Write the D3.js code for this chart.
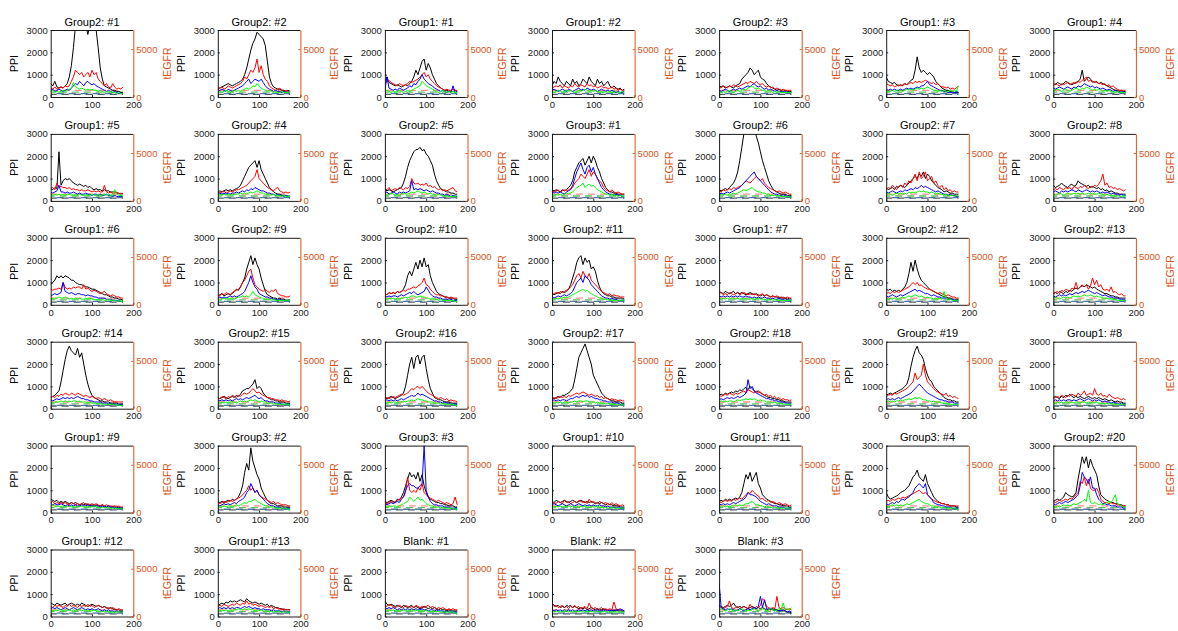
<!DOCTYPE html>
<html><head><meta charset="utf-8">
<script src="https://cdn.jsdelivr.net/npm/d3@7"></script>
<style>
body{margin:0;background:#fff}
svg{display:block}
text{font-family:"Liberation Sans",Arial,Helvetica,sans-serif}
</style>
</head><body>
<svg id="fig" width="1178" height="631"></svg>
<script>
// Panel titles, row by row (7 panels per row)
const panelTitles = [
  "Group2: #1","Group2: #2","Group1: #1","Group1: #2","Group2: #3","Group1: #3","Group1: #4",
  "Group1: #5","Group2: #4","Group2: #5","Group3: #1","Group2: #6","Group2: #7","Group2: #8",
  "Group1: #6","Group2: #9","Group2: #10","Group2: #11","Group1: #7","Group2: #12","Group2: #13",
  "Group2: #14","Group2: #15","Group2: #16","Group2: #17","Group2: #18","Group2: #19","Group1: #8",
  "Group1: #9","Group3: #2","Group3: #3","Group1: #10","Group1: #11","Group3: #4","Group2: #20",
  "Group1: #12","Group1: #13","Blank: #1","Blank: #2","Blank: #3"
];

// Sampling positions along the x axis (frame index)
const frameX = [0,5,10,15,20,25,30,35,40,45,50,55,60,65,70,75,80,85,90,95,100,105,110,115,120,125,130,135,140,145,150,155,160,165,170,175];

// Axis ticks
const xTicks = [0,100,200];
const ppiTicks = [0,1000,2000,3000];
const egfrTicks = [0,5000];

// Dashed reference levels (black, blue, green, red)
const cutoffBlack = 120, cutoffBlue = 150, cutoffGreen = 220, cutoffRed = 300;

// Black trace, one row per panel
const traceBlack = [
[600,500,700,450,400,450,400,500,600,900,1400,2200,3200,3500,3600,3400,3500,3200,2800,3300,3400,3200,3000,2200,1300,800,500,450,400,350,300,300,250,250,200,200],
[400,400,450,500,550,600,550,500,550,600,650,700,800,1000,1300,1700,2100,2400,2600,2900,2800,2700,2600,2300,1600,900,600,450,400,350,350,300,300,250,300,250],
[700,900,650,600,550,500,550,500,450,500,550,500,600,700,900,1200,1000,1300,1600,1700,1200,1500,1300,1000,800,600,500,400,350,300,300,250,250,250,300,250],
[500,700,600,900,700,600,500,700,600,500,800,600,700,500,600,800,700,600,900,700,600,500,800,600,700,500,600,700,500,400,500,400,350,400,300,350],
[500,450,500,400,450,500,450,400,500,550,600,800,900,1000,1100,1300,1200,1000,1100,1200,900,800,750,600,500,450,400,350,300,350,300,250,300,250,250,250],
[900,700,650,600,650,550,500,550,500,600,550,650,750,800,1200,1800,1300,1100,1200,1100,1000,1100,1000,900,700,600,500,400,350,300,300,250,250,200,200,200],
[600,550,650,600,550,600,700,650,600,550,600,650,700,800,1200,700,800,900,800,700,650,700,600,650,600,550,500,450,400,350,300,300,250,300,250,250],
[550,500,600,550,2200,700,900,1000,950,1000,900,800,750,700,750,700,650,700,600,650,550,500,550,500,500,450,500,450,450,400,400,400,350,350,300,350],
[400,450,400,450,500,450,500,450,500,550,600,700,900,1100,1300,1500,1600,1700,1800,1500,1800,1400,1200,1000,800,600,500,400,350,300,300,250,250,250,200,200],
[500,450,500,450,400,450,500,550,600,800,1100,1500,1800,2000,2200,2300,2300,2400,2250,2300,2100,2000,1800,1600,1200,900,700,550,500,450,400,400,350,350,300,300],
[500,450,500,450,400,500,450,500,600,700,900,1300,1500,1700,1800,1900,1600,1800,2000,1700,2000,1800,1500,1300,1000,800,600,500,400,400,350,350,300,300,300,300],
[500,450,500,550,500,600,700,800,1000,1300,1800,2400,3000,3400,3500,3300,3600,3200,2900,2600,2200,1800,1500,1200,900,700,550,450,400,350,300,300,300,250,250,250],
[600,500,550,600,500,650,600,700,650,600,700,800,900,1000,1100,1000,1200,1100,1300,1000,1200,1100,900,800,700,600,550,500,400,450,400,350,350,300,300,300],
[700,600,650,700,800,700,650,600,700,750,650,700,900,800,750,700,650,700,600,650,600,550,600,500,550,450,500,400,450,400,350,350,300,300,300,300],
[900,1000,1100,1300,1200,1300,1200,1300,1250,1200,1100,1100,1000,950,900,900,850,800,800,750,700,700,650,600,550,500,450,450,400,350,350,300,300,250,250,200],
[400,450,500,400,450,500,450,500,600,700,650,800,1000,1200,1600,1900,2200,1800,2100,1800,1600,1200,900,600,450,400,350,300,300,250,300,250,250,200,200,200],
[500,450,550,500,550,500,600,550,600,700,900,1300,1500,1300,1600,1900,1600,2000,1700,2100,1700,1800,1300,1000,800,600,500,450,400,350,350,300,300,300,250,250],
[500,450,500,550,500,600,550,600,700,900,1200,1500,1900,2100,2200,1800,2100,1900,2000,1600,1700,1500,1100,800,600,500,450,400,400,350,350,300,300,300,300,250],
[600,550,500,600,550,500,550,600,500,550,500,550,500,450,500,550,500,450,500,450,400,450,400,450,400,350,400,350,350,300,350,300,300,250,300,250],
[700,650,700,600,650,600,650,600,700,800,1000,1400,1900,1500,2000,1600,1300,1100,1000,900,800,700,650,600,550,500,450,400,350,350,300,300,250,250,250,250],
[500,550,500,600,550,500,600,550,650,600,700,750,700,800,850,800,900,850,800,750,800,700,650,600,550,500,500,450,400,400,350,350,300,300,300,300],
[500,550,600,700,800,1200,1700,2200,2600,2800,2600,2500,2400,2700,2300,2500,2000,1500,1100,800,600,500,450,400,350,350,300,300,300,250,250,250,250,200,200,200],
[500,450,500,550,500,450,500,550,500,600,550,650,800,850,900,900,1000,1100,1300,900,1000,900,700,600,500,450,400,400,350,350,300,300,300,250,250,250],
[500,450,500,550,500,450,500,550,600,700,1000,1500,2000,2300,1800,2300,2400,2000,2300,2400,1800,1300,900,700,500,450,400,400,350,300,300,300,250,250,250,250],
[500,450,500,550,500,600,600,650,700,800,900,1300,1800,2300,2500,2700,2900,2600,2300,2000,1500,1300,1100,900,700,600,500,450,400,350,350,300,300,300,250,250],
[600,650,600,700,650,700,750,700,800,750,850,800,900,950,850,1000,900,800,750,800,700,650,600,550,500,500,450,450,400,400,350,350,300,300,300,300],
[600,650,700,650,700,750,800,850,900,1000,1100,1400,1900,2300,2600,2800,2500,2400,2200,1800,1500,1300,1200,1000,900,800,700,600,500,450,400,400,350,350,300,300],
[500,550,500,450,550,500,600,550,650,550,500,550,500,550,500,450,500,550,500,450,500,450,500,450,400,450,400,350,400,350,300,350,300,300,250,250],
[600,550,500,550,450,500,450,500,450,400,450,400,450,400,350,400,350,400,350,300,350,300,350,300,300,350,300,250,300,250,250,250,200,250,200,200],
[500,450,500,450,500,550,500,600,550,600,700,900,1200,1800,2200,1900,2900,2300,2000,1700,1500,1100,900,700,550,450,400,400,350,300,300,300,250,250,250,250],
[500,450,500,550,500,450,600,550,700,900,1200,1500,1800,1600,1700,1500,1800,1400,1700,1200,900,700,600,550,500,450,450,400,400,350,350,300,300,300,250,250],
[500,450,550,500,450,500,550,500,450,500,550,500,450,500,550,500,450,500,450,500,450,400,450,400,450,400,350,400,350,350,300,300,300,250,250,250],
[500,550,500,600,550,600,550,600,650,600,700,900,1300,1700,1500,1800,1400,1600,1800,1300,1100,800,700,600,550,500,450,400,400,350,350,300,300,300,250,250],
[900,700,600,650,700,750,800,900,950,1000,1100,1200,1400,1600,1700,1900,1600,1500,1400,1700,1300,1100,900,700,600,500,450,400,400,350,350,300,300,300,250,250],
[500,550,600,550,600,700,900,800,750,700,750,900,1500,2000,2500,2200,2500,2000,2400,2100,1900,1700,1200,800,700,600,550,500,450,450,400,400,350,350,300,300],
[600,550,500,600,550,500,550,600,500,550,600,550,500,550,500,600,550,500,450,500,550,500,450,500,450,400,450,400,350,400,350,300,300,300,250,250],
[500,550,600,550,650,600,700,650,700,650,700,750,700,650,800,700,650,600,650,600,550,600,550,500,550,450,500,450,400,400,350,350,300,300,300,300],
[700,550,500,550,500,450,500,450,400,500,450,400,450,500,400,450,400,350,400,450,400,350,400,350,400,350,300,350,300,300,250,300,250,250,250,250],
[600,500,450,500,400,450,400,500,450,500,400,450,400,350,400,350,400,300,350,400,350,300,350,300,300,350,300,300,250,300,250,300,250,250,250,250],
[500,450,400,450,500,450,500,600,450,400,450,400,450,400,350,400,450,400,350,400,350,400,350,300,350,300,350,300,300,250,300,250,250,200,200,150]
];

// Red trace
const traceRed = [
[400,350,450,350,400,450,400,500,450,500,700,900,1200,1100,1000,1100,900,1000,1100,900,1200,1000,1100,800,700,600,500,600,450,400,600,450,350,400,350,450],
[350,400,450,350,400,500,450,400,450,500,550,600,700,900,800,1000,1200,1100,1300,1700,1100,1400,1000,800,700,500,400,350,300,350,400,300,250,300,250,250],
[600,700,750,650,600,550,500,600,550,500,550,600,700,650,700,750,800,900,1000,1100,900,1000,800,700,600,500,450,400,350,300,350,300,300,350,300,300],
[400,450,500,450,550,400,500,450,400,500,450,600,500,450,550,500,450,600,500,550,450,500,400,450,500,400,450,350,400,450,350,400,300,350,300,300],
[450,400,500,450,400,500,450,550,500,450,500,550,600,650,600,700,650,600,700,600,550,600,500,450,500,400,450,350,400,350,300,350,300,300,300,300],
[600,550,500,550,450,500,550,500,550,600,550,600,650,600,700,650,700,650,700,750,700,650,600,650,550,600,500,450,450,400,450,350,400,350,400,500],
[500,600,550,500,600,550,600,650,550,600,650,600,700,650,750,800,900,700,750,650,700,650,600,600,550,600,500,550,450,500,400,350,300,300,300,300],
[550,600,500,800,600,650,600,600,550,600,500,550,500,500,450,500,450,450,500,450,400,450,400,450,400,400,700,400,350,400,350,350,400,300,350,300],
[400,350,400,450,350,400,450,400,450,500,500,550,600,650,700,800,900,1000,1100,1400,1000,900,800,700,600,550,500,450,550,600,450,400,350,400,350,400],
[550,500,600,450,500,550,500,600,550,500,600,550,650,1000,800,750,800,700,750,700,800,650,700,600,650,550,500,550,450,500,450,500,550,600,450,400],
[500,400,450,500,400,450,500,450,500,550,600,800,900,1000,1200,1100,1000,1200,1400,1100,1300,1200,1000,900,800,600,500,450,400,500,400,350,400,350,300,300],
[450,400,500,450,500,550,500,600,550,600,650,700,800,900,850,800,900,1000,1100,1000,900,1000,800,700,600,550,500,450,400,450,400,350,400,350,300,300],
[500,600,550,700,600,500,650,700,600,800,700,900,800,1000,1200,900,1300,1000,1100,1300,900,1000,1100,800,900,700,600,700,500,600,450,500,400,450,400,400],
[500,550,500,600,550,500,600,550,600,500,650,600,550,650,600,700,600,550,650,600,700,650,750,900,1200,700,800,600,650,550,600,500,550,500,450,500],
[700,650,700,700,750,700,1000,800,700,750,700,800,750,800,800,700,900,700,750,650,600,650,600,550,500,550,600,500,450,400,450,400,350,350,300,300],
[450,400,500,450,550,500,450,550,600,650,700,800,1000,1100,1300,1500,1600,1200,900,800,700,650,600,700,600,550,650,600,700,500,450,400,400,350,350,400],
[500,450,550,500,550,500,600,550,600,650,600,700,700,750,800,750,850,900,1000,1200,900,850,700,600,500,450,450,400,400,350,350,300,350,300,300,300],
[450,500,550,500,600,550,600,650,700,800,900,1100,1300,1400,1200,1500,1300,1200,1400,1100,1000,900,800,700,600,550,500,450,500,400,450,400,400,350,350,350],
[500,550,450,500,450,550,500,450,500,550,450,500,550,500,450,500,450,500,450,400,450,500,400,450,400,350,400,350,400,350,300,350,300,350,300,300],
[500,550,500,600,550,600,550,600,650,700,750,800,900,1000,900,1000,850,900,800,750,700,700,650,600,550,500,550,500,450,400,450,400,350,350,300,300],
[500,550,600,500,650,600,700,650,600,750,700,1000,700,800,900,800,900,700,850,1200,900,1100,800,900,700,650,700,600,800,550,600,500,450,500,400,400],
[500,550,500,600,550,650,600,700,650,600,700,650,600,700,650,600,550,600,550,500,550,500,450,500,450,400,450,400,350,400,350,300,300,300,300,300],
[500,450,550,500,450,550,500,600,550,500,600,550,650,700,650,700,800,900,800,700,750,650,600,550,500,500,450,450,400,400,350,400,350,350,300,350],
[450,500,450,500,550,500,550,600,650,600,650,700,800,900,850,950,1000,900,1000,900,800,700,650,600,550,500,450,500,450,400,450,350,400,350,350,300],
[450,500,450,500,550,500,550,500,600,550,600,650,700,650,700,750,700,650,600,650,600,550,600,500,550,450,500,450,400,450,400,400,350,400,350,350],
[600,550,600,650,600,700,650,600,700,650,700,750,800,700,850,800,750,700,800,700,750,650,600,650,550,600,500,550,450,500,400,450,400,400,350,400],
[550,600,650,600,700,650,700,750,800,850,900,1000,1100,1200,1600,1300,1400,1500,2000,1500,1200,1100,1000,900,800,750,700,650,600,700,550,600,500,550,500,450],
[450,500,550,500,600,550,500,600,550,650,600,550,700,600,650,800,600,650,700,600,900,650,600,700,550,600,500,650,550,500,450,500,450,400,450,400],
[450,500,400,450,400,450,400,450,400,350,450,400,350,400,350,400,450,350,400,350,400,350,400,350,300,350,300,350,300,300,250,300,250,300,250,250],
[450,400,450,500,450,500,550,500,550,600,650,700,800,900,1000,1200,1000,1100,900,1000,800,700,650,600,550,500,450,500,400,450,400,350,350,350,300,300],
[450,400,450,500,450,500,550,600,650,700,900,1600,1000,900,1000,900,1100,1000,1300,900,800,700,650,600,550,500,550,500,450,400,450,400,350,400,700,350],
[400,450,400,500,450,400,550,450,500,400,450,500,450,550,500,450,500,400,600,450,500,450,400,500,450,400,450,400,350,450,350,400,350,300,350,300],
[500,450,500,550,500,550,500,600,550,600,650,600,700,800,900,850,1000,900,800,750,600,650,550,500,550,450,500,450,400,450,400,350,400,350,300,350],
[500,550,500,600,550,600,650,600,700,650,700,750,800,850,900,950,1000,900,850,900,800,700,600,550,500,450,450,400,400,350,350,300,300,300,300,300],
[500,450,500,550,500,550,600,550,650,600,700,800,900,1400,1300,1600,1200,1500,1100,1000,1000,1100,900,600,500,450,450,400,450,400,400,350,350,300,300,300],
[450,400,500,450,500,450,400,500,450,550,450,500,450,400,500,450,500,450,550,450,500,400,450,500,450,400,450,350,400,350,400,350,300,350,300,300],
[450,500,450,550,500,450,500,550,500,600,550,500,600,550,700,550,600,500,550,500,450,500,450,400,450,400,450,350,400,350,350,300,350,300,300,300],
[500,450,550,500,450,400,450,500,450,400,500,450,400,450,400,500,450,400,450,400,450,500,400,450,400,350,400,350,400,350,300,350,300,350,300,300],
[550,450,500,400,450,500,400,450,350,450,400,500,400,450,350,400,450,350,600,400,350,400,300,350,400,300,350,300,350,300,650,350,300,350,300,250],
[450,400,350,400,450,700,400,350,400,450,350,400,450,400,350,550,400,350,450,400,500,800,700,450,400,350,400,350,900,400,350,400,350,300,350,300]
];

// Blue trace
const traceBlue = [
[300,350,250,300,350,300,250,300,350,300,400,500,600,550,700,600,500,650,700,600,550,600,500,450,400,350,300,250,300,250,200,250,200,150,200,150],
[250,300,350,300,250,350,300,250,300,350,400,450,500,600,700,800,600,700,800,750,700,800,650,500,400,350,300,250,300,250,250,200,250,200,200,250],
[300,900,400,350,300,350,300,400,350,300,350,400,500,450,600,550,700,800,1000,800,700,600,550,500,400,350,300,250,300,250,200,250,200,500,200,250],
[300,350,300,250,300,350,300,250,350,300,250,300,350,400,300,350,300,400,350,300,350,300,250,300,350,300,250,300,250,300,250,200,250,200,200,250],
[300,250,300,350,300,250,300,350,300,350,400,350,400,450,500,450,550,600,500,450,500,400,350,400,300,350,300,250,300,250,250,200,250,200,200,200],
[350,300,350,300,350,300,300,350,300,350,400,350,400,350,400,450,400,500,500,600,700,550,500,450,400,350,300,300,250,250,200,200,200,200,250,200],
[400,350,400,450,400,350,400,450,400,350,450,400,500,450,500,600,550,500,450,500,400,450,400,350,400,350,300,350,300,250,300,250,200,250,200,200],
[400,350,400,450,700,400,400,350,400,350,350,400,350,300,350,300,300,350,300,300,250,300,300,250,300,250,250,300,250,250,200,250,200,200,200,200],
[300,350,300,350,300,350,300,350,350,400,350,400,450,400,500,450,550,500,600,550,500,450,450,400,350,350,300,300,250,300,250,250,200,250,200,200],
[350,400,300,350,400,350,300,400,350,400,350,400,450,900,500,550,500,550,500,450,500,450,400,450,400,350,350,300,300,250,300,250,200,250,200,200],
[400,350,400,350,400,350,300,400,450,500,700,1000,1300,1500,1700,1400,1200,1500,1600,1300,1500,1200,1000,800,600,500,400,350,300,300,250,300,250,250,200,200],
[300,350,300,350,400,350,400,450,500,550,600,700,800,900,1000,1100,1200,1300,1100,1000,900,800,700,600,500,400,350,300,300,250,250,200,250,200,200,200],
[400,350,400,450,400,350,400,450,400,500,450,500,550,500,600,550,600,700,600,650,600,550,500,450,400,450,400,350,300,300,250,300,250,250,200,200],
[400,450,400,350,450,400,450,400,450,500,450,400,500,450,400,450,500,450,400,450,400,450,400,350,400,350,400,350,300,350,300,300,250,300,250,250],
[400,450,500,450,500,550,1000,600,550,500,550,500,450,500,500,450,450,400,450,400,400,350,350,300,300,300,300,250,250,250,200,200,200,200,150,150],
[300,350,300,350,300,350,400,350,400,350,400,450,500,600,800,1000,1300,1000,800,700,500,450,400,350,350,300,300,250,250,200,250,200,200,200,200,200],
[400,350,400,350,400,400,350,400,450,400,450,500,550,500,600,500,450,500,550,600,800,650,500,400,350,350,300,300,250,250,250,200,250,200,200,200],
[350,300,350,400,350,400,450,400,450,500,600,800,1000,1100,1200,1000,1300,1200,1100,900,800,700,600,500,400,350,300,300,250,300,250,250,200,200,200,200],
[400,350,400,350,400,350,400,350,400,350,400,350,350,400,350,350,300,350,300,350,300,300,350,300,300,250,300,250,250,300,250,250,200,250,200,200],
[400,350,400,450,400,350,400,450,400,450,500,550,600,650,700,600,650,600,550,500,500,450,400,450,400,350,350,300,300,300,250,250,250,200,200,200],
[400,350,400,450,400,450,400,450,500,450,500,550,500,550,600,550,600,650,600,550,500,550,500,450,400,450,400,350,350,300,300,300,250,250,250,200],
[400,350,400,450,400,450,500,450,500,450,500,450,500,550,500,450,450,400,400,350,350,300,300,300,300,250,250,250,200,250,200,200,200,200,200,200],
[400,350,400,350,400,350,400,350,400,450,400,450,400,450,500,450,500,550,600,500,450,500,400,350,350,300,300,300,250,250,250,200,200,200,200,200],
[350,400,350,400,350,400,350,400,450,400,450,500,550,600,550,600,700,600,650,600,550,500,450,400,350,350,300,300,250,300,250,250,200,200,200,200],
[350,400,350,400,350,400,400,350,400,450,450,500,550,500,550,600,550,600,500,550,500,450,450,400,400,350,350,300,300,300,250,250,250,200,200,200],
[400,450,400,450,500,450,500,450,500,550,500,550,600,700,1300,900,1000,800,700,650,600,550,500,450,450,400,400,350,350,300,300,300,250,250,250,250],
[400,450,400,450,400,450,500,450,500,550,600,650,700,800,900,1000,1100,1000,900,800,700,650,600,550,500,450,400,400,350,350,300,300,300,250,250,250],
[350,400,350,400,350,400,350,400,400,350,400,350,400,450,400,350,400,450,400,350,400,350,400,350,300,350,300,300,250,300,250,250,200,250,200,200],
[400,350,400,350,350,400,350,300,350,300,350,300,350,300,300,350,300,300,350,300,300,250,300,300,250,300,250,250,300,250,250,200,250,200,200,200],
[350,300,350,400,350,400,350,400,450,400,500,550,600,700,900,1000,1300,1100,900,1000,800,700,600,500,400,350,300,300,250,250,250,200,200,200,200,200],
[400,350,400,450,400,450,500,450,600,700,1000,1200,1300,1200,1200,1100,1100,1200,1300,3000,1000,700,500,400,350,350,300,300,300,250,250,250,200,200,200,200],
[350,400,350,300,350,400,350,300,350,400,350,300,350,400,350,300,350,300,350,300,350,300,300,350,300,300,250,300,250,250,250,200,250,200,200,200],
[400,350,400,350,400,350,400,450,400,450,500,550,600,700,900,800,800,750,700,600,500,450,400,350,400,350,300,300,300,250,250,250,200,200,200,200],
[400,350,400,450,400,500,450,550,600,550,650,700,800,900,1100,1200,1300,1200,1100,1300,800,700,600,450,400,350,350,300,300,250,250,250,200,200,200,200],
[400,350,400,450,400,450,500,450,500,550,600,700,800,1200,1800,1600,1500,1300,1600,1100,1100,800,600,500,400,400,350,350,300,300,300,250,250,250,200,200],
[350,400,350,400,350,300,350,400,350,300,350,400,350,300,350,400,350,300,350,300,350,300,300,350,300,250,300,250,300,250,250,200,250,200,200,200],
[350,400,350,400,350,400,350,400,350,400,400,350,400,450,400,450,400,350,400,350,350,300,350,300,300,300,250,300,250,250,250,200,250,200,200,200],
[400,350,400,350,400,350,300,350,300,350,300,350,300,350,300,350,300,300,350,300,300,250,300,300,250,300,250,250,250,200,250,200,200,200,200,200],
[300,250,300,250,300,250,300,250,300,250,300,250,250,300,250,300,250,300,250,300,250,250,300,250,250,300,250,250,300,250,300,250,300,300,300,250],
[1500,400,350,300,350,300,350,300,250,300,350,300,250,300,350,300,350,400,350,450,900,400,750,350,300,350,300,250,300,250,250,300,250,200,250,200]
];

// Green trace
const traceGreen = [
[250,300,200,250,200,250,300,250,300,350,400,650,450,400,350,400,350,300,350,300,350,300,300,250,300,250,200,250,200,250,200,200,150,200,150,150],
[200,250,200,250,300,250,200,250,300,250,300,250,300,350,400,350,400,500,450,600,500,400,350,300,250,300,250,200,250,200,200,250,200,200,200,250],
[250,300,250,200,250,200,250,300,250,200,250,300,250,300,350,400,450,500,700,600,500,450,400,350,300,250,200,250,300,250,200,250,200,250,200,200],
[250,200,250,300,250,200,250,300,250,300,250,200,250,300,250,300,350,300,250,300,250,300,250,200,250,200,250,200,250,200,200,250,200,200,250,200],
[250,200,250,200,250,300,250,200,250,300,250,300,350,300,400,450,500,400,350,400,350,300,300,250,300,250,200,250,200,250,200,200,200,200,200,200],
[300,250,250,300,250,300,250,300,250,300,350,300,350,300,350,400,350,400,350,400,450,400,350,300,300,250,300,250,300,250,250,300,250,300,250,500],
[300,300,350,300,250,300,350,300,250,300,350,400,350,300,400,350,450,400,350,300,350,300,350,300,250,300,250,300,250,250,200,250,200,200,200,200],
[300,250,300,250,300,250,300,250,300,300,250,300,250,250,300,250,250,300,250,250,300,250,250,300,250,250,300,250,300,250,250,500,300,250,250,200],
[250,300,250,300,250,300,300,250,300,300,300,350,300,350,300,350,400,350,400,450,400,350,350,300,300,300,250,300,250,250,250,200,250,200,200,200],
[300,250,300,350,300,250,300,250,300,350,300,300,350,400,350,400,450,400,350,400,350,300,350,300,300,250,300,250,250,200,250,200,200,200,200,150],
[300,250,300,250,300,250,300,350,300,350,400,500,600,650,700,800,600,700,750,650,700,600,500,450,400,350,300,300,250,300,250,250,200,250,200,200],
[250,300,250,300,250,300,300,350,300,350,400,450,500,450,500,550,600,500,450,400,400,350,350,300,300,250,250,250,200,250,200,200,200,200,200,150],
[300,350,300,250,300,350,300,350,300,350,300,400,350,400,350,400,450,400,450,400,400,350,400,350,300,350,300,300,250,300,250,250,250,200,250,200],
[300,250,300,350,300,250,300,350,300,300,350,300,350,300,350,300,300,350,300,350,300,300,350,300,300,250,300,250,250,250,200,250,200,200,250,200],
[250,300,250,300,350,300,300,350,300,250,300,250,300,250,300,250,250,300,250,300,250,250,200,250,200,250,200,200,250,200,200,200,150,200,150,150],
[250,200,250,300,250,300,250,300,250,300,350,350,400,350,400,350,450,600,450,400,350,300,300,250,250,250,200,250,200,200,200,200,200,200,200,200],
[300,250,300,250,300,250,300,250,300,300,350,300,350,400,400,350,350,400,350,350,300,300,250,300,250,250,200,250,200,200,200,200,200,200,150,150],
[300,250,300,250,300,300,350,300,350,400,450,500,550,600,650,700,600,650,550,500,450,400,350,300,300,250,250,250,200,200,200,200,200,200,200,200],
[300,250,300,250,300,250,300,300,250,300,250,300,250,300,250,250,300,250,250,300,250,250,250,200,250,250,200,250,200,200,200,200,200,200,200,200],
[300,250,300,250,300,300,250,300,350,300,350,400,350,400,450,400,350,400,350,300,350,300,300,250,300,250,300,250,600,300,250,250,200,200,200,200],
[300,350,300,250,300,350,300,350,300,350,400,350,400,350,400,450,400,400,450,400,350,400,350,350,300,300,300,250,300,250,250,200,200,200,200,200],
[300,250,300,300,300,350,300,350,300,350,300,350,350,300,350,300,300,300,250,300,250,250,250,200,250,200,200,200,200,200,200,150,200,150,150,150],
[300,250,300,250,300,250,300,300,300,250,300,350,300,350,300,350,400,350,400,350,300,350,300,300,250,250,250,200,250,200,200,200,200,200,200,150],
[300,250,300,250,300,300,250,300,300,350,300,350,350,400,350,400,450,400,400,350,350,300,300,300,250,250,250,200,250,200,200,200,200,200,150,150],
[300,250,300,250,300,250,300,300,250,300,300,350,300,350,350,300,350,350,300,300,300,250,300,250,250,250,200,250,200,200,200,200,200,150,200,150],
[300,350,300,350,300,350,350,300,350,400,350,400,400,450,400,450,400,450,400,350,400,350,350,300,300,300,250,300,250,250,250,200,200,200,200,200],
[300,350,300,350,300,350,350,400,350,400,400,450,400,450,500,450,500,450,400,400,350,350,300,350,300,300,300,250,250,250,200,200,200,200,200,200],
[300,250,300,250,300,250,300,300,250,300,250,300,300,250,300,300,250,300,250,300,250,300,250,250,250,200,250,200,250,200,200,200,200,200,200,200],
[300,350,300,250,300,250,300,250,300,250,300,250,250,300,250,300,250,250,300,250,250,300,250,250,200,250,200,250,200,200,200,200,200,150,200,150],
[250,300,250,300,250,300,300,250,300,350,300,350,400,450,400,500,500,550,600,500,450,400,350,300,300,250,250,250,200,200,200,200,200,200,150,150],
[300,250,300,250,300,300,250,300,350,400,450,500,700,600,500,600,700,550,600,500,400,350,300,300,250,250,250,200,250,200,200,200,200,200,150,150],
[300,250,300,250,300,250,300,250,300,250,300,250,300,250,300,250,300,250,250,300,250,250,300,250,250,200,250,200,200,250,200,200,200,200,200,200],
[300,250,300,250,300,250,300,300,350,300,350,300,350,400,400,450,500,400,350,350,300,300,250,300,250,250,200,250,200,200,200,200,200,200,200,150],
[300,250,300,350,300,350,300,350,300,350,400,350,400,450,500,550,600,500,450,400,400,350,300,300,250,250,250,200,250,200,200,200,200,200,150,150],
[300,250,300,250,300,350,300,350,300,350,400,350,400,450,500,600,500,1000,450,400,450,400,350,400,350,400,450,500,450,600,800,400,350,300,250,250],
[300,250,300,250,300,300,250,300,250,300,250,300,250,300,300,250,300,250,300,250,250,300,250,250,200,250,200,250,200,200,200,200,200,200,200,200],
[300,250,300,250,300,250,300,250,300,300,350,300,300,350,300,350,300,300,250,300,250,300,250,250,250,200,250,200,200,250,200,200,200,200,200,150],
[300,250,300,250,300,250,300,250,250,300,250,300,250,300,250,250,300,250,250,300,250,250,200,250,250,200,250,200,200,200,200,200,200,200,150,150],
[250,200,250,200,250,200,250,250,200,250,200,250,200,250,200,250,200,250,200,250,200,200,250,200,200,250,200,200,200,200,200,200,200,200,200,200],
[300,350,300,250,300,350,300,250,300,250,300,350,300,250,300,250,300,350,300,250,300,350,300,250,300,350,300,250,300,350,300,600,300,350,300,400]
];

// ---- layout ----
const W = 1178, H = 631;
const nCols = 7;
const left0 = 50.7, colStep = 167.1, top0 = 30, rowStep = 103.9;
const plotW = 82.6, plotH = 67;
const orange = "#D95319", axisInk = "#1a1a1a";
const tickFont = 9.5;

const svg = d3.select("#fig");
svg.append("rect").attr("width", W).attr("height", H).attr("fill", "#fff");

const x = d3.scaleLinear().domain([0, 200]).range([0, plotW]);
const yL = d3.scaleLinear().domain([0, 3000]).range([plotH, 0]);
const yR = d3.scaleLinear().domain([0, 7000]).range([plotH, 0]);
const plain = d3.format("d");

const line = d3.line().x((d, j) => x(frameX[j])).y(d => yL(d));

const traces = [
  {data: traceBlack, color: "#000000"},
  {data: traceRed,   color: "#FF0000"},
  {data: traceBlue,  color: "#0000FF"},
  {data: traceGreen, color: "#00FF00"}
];
const cutoffs = [
  {v: cutoffRed,   color: "#FF9090", off: 0},
  {v: cutoffGreen, color: "#60C060", off: 3},
  {v: cutoffBlue,  color: "#4F74A8", off: 6},
  {v: cutoffBlack, color: "#4A5A68", off: 1}
];

panelTitles.forEach((title, i) => {
  const c = i % nCols, r = Math.floor(i / nCols);
  const g = svg.append("g").attr("transform", `translate(${left0 + c * colStep},${top0 + r * rowStep})`);
  const clipId = "clip" + i;
  g.append("clipPath").attr("id", clipId)
    .append("rect").attr("width", plotW).attr("height", plotH);

  const plot = g.append("g").attr("clip-path", `url(#${clipId})`);

  // dashed reference levels
  cutoffs.forEach(cf => {
    plot.append("line")
      .attr("x1", x(frameX[0])).attr("x2", x(frameX[frameX.length - 1]))
      .attr("y1", yL(cf.v)).attr("y2", yL(cf.v))
      .attr("stroke", cf.color).attr("stroke-width", 1.3)
      .attr("stroke-dasharray", "7,5").attr("stroke-dashoffset", cf.off);
  });

  traces.forEach(t => {
    plot.append("path")
      .attr("d", line(t.data[i]))
      .attr("fill", "none")
      .attr("stroke", t.color)
      .attr("stroke-width", 1)
      .attr("stroke-linejoin", "round");
  });

  // frame top edge
  g.append("line").attr("x1", 0).attr("x2", plotW).attr("y1", 0.5).attr("y2", 0.5)
    .attr("stroke", axisInk).attr("stroke-width", 1);

  const axL = g.append("g")
    .call(d3.axisLeft(yL).tickValues(ppiTicks).tickFormat(plain).tickSize(-2).tickSizeOuter(0).tickPadding(3));
  const axB = g.append("g").attr("transform", `translate(0,${plotH})`)
    .call(d3.axisBottom(x).tickValues(xTicks).tickFormat(plain).tickSize(-2).tickSizeOuter(0).tickPadding(4));
  const axR = g.append("g").attr("transform", `translate(${plotW},0)`)
    .call(d3.axisRight(yR).tickValues(egfrTicks).tickFormat(plain).tickSize(-2).tickSizeOuter(0).tickPadding(3));

  [axL, axB].forEach(a => {
    a.selectAll("path,line").attr("stroke", axisInk);
    a.selectAll("text").attr("fill", axisInk).attr("font-size", tickFont)
      .attr("font-family", '"Liberation Sans",Arial,sans-serif');
  });
  axR.selectAll("path,line").attr("stroke", orange);
  axR.selectAll("text").attr("fill", orange).attr("font-size", tickFont)
    .attr("font-family", '"Liberation Sans",Arial,sans-serif');

  g.append("text").attr("x", plotW / 2).attr("y", -4.5)
    .attr("text-anchor", "middle").attr("font-size", 11).attr("fill", "#000")
    .text(title);

  g.append("text")
    .attr("transform", `translate(-33,${plotH / 2}) rotate(-90)`)
    .attr("text-anchor", "middle").attr("font-size", 10.5).attr("fill", "#000")
    .text("PPI");

  g.append("text")
    .attr("transform", `translate(${plotW + 38},${plotH / 2}) rotate(-90)`)
    .attr("text-anchor", "middle").attr("font-size", 10.5).attr("fill", orange)
    .text("tEGFR");
});
</script>
</body></html>
